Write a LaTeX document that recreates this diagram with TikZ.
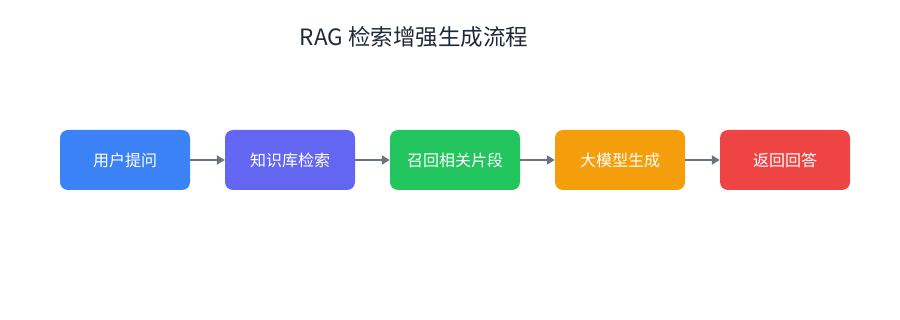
\documentclass[tikz,border=0pt]{standalone}
\usepackage{fontspec}
\setmainfont{Noto Sans CJK SC}
\usetikzlibrary{arrows.meta}
\definecolor{cBlue}{HTML}{3B82F6}
\definecolor{cIndigo}{HTML}{6366F1}
\definecolor{cGreen}{HTML}{22C55E}
\definecolor{cAmber}{HTML}{F59E0B}
\definecolor{cRed}{HTML}{EF4444}
\definecolor{cArrow}{HTML}{6B7280}
\definecolor{cTitle}{HTML}{1F2937}
\begin{document}
\begin{tikzpicture}[x=1pt,y=-1pt,
  stepbox/.style={rounded corners=8pt, minimum width=130pt, minimum height=60pt, inner sep=0pt, text=white, font=\fontsize{16}{18}\selectfont},
  flow/.style={draw=cArrow, line width=2pt, -{Triangle[length=8pt,width=9pt]}}]
\useasboundingbox (0,0) rectangle (900,320);
\node[text=cTitle, font=\fontsize{22.5}{26}\selectfont] (title) at (414,37) {RAG 检索增强生成流程};
\node[stepbox, fill=cBlue] (s1) at (125,160) {用户提问};
\node[stepbox, fill=cIndigo] (s2) at (290,160) {知识库检索};
\node[stepbox, fill=cGreen] (s3) at (455,160) {召回相关片段};
\node[stepbox, fill=cAmber] (s4) at (620,160) {大模型生成};
\node[stepbox, fill=cRed] (s5) at (785,160) {返回回答};
\draw[flow] (s1) -- (s2);
\draw[flow] (s2) -- (s3);
\draw[flow] (s3) -- (s4);
\draw[flow] (s4) -- (s5);
\end{tikzpicture}
\end{document}
